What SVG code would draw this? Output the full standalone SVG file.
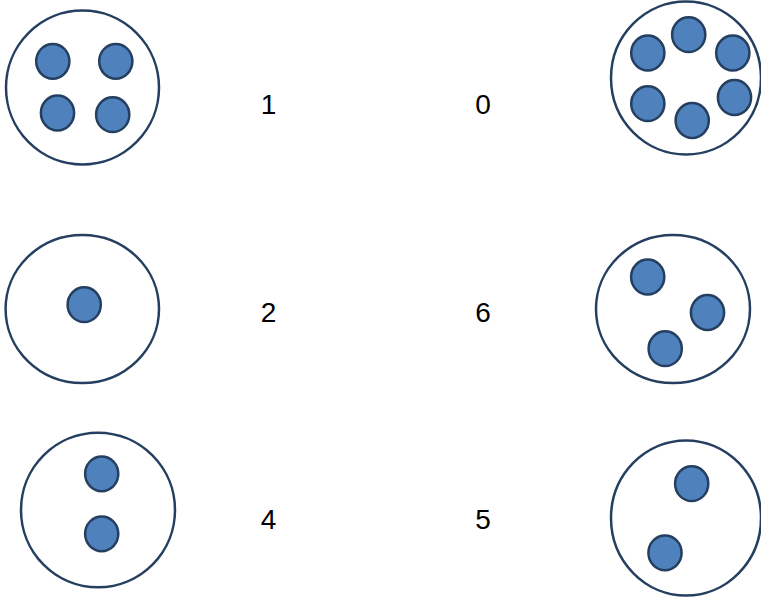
<svg xmlns="http://www.w3.org/2000/svg" width="761" height="597" viewBox="0 0 761 597">
<style>
.big{fill:#ffffff;stroke:#243f60;stroke-width:2.5}
.dot{fill:#4f81bd;stroke:#243f60;stroke-width:2.5}
.lbl{font-family:"Liberation Sans",Arial,sans-serif;font-size:28px;fill:#000000;text-anchor:middle}
</style>
<rect width="761" height="597" fill="#ffffff"/>
<g id="node-tl">
<ellipse class="big" cx="82.5" cy="87.5" rx="76.5" ry="77"/>
<ellipse class="dot" cx="52.8" cy="61.3" rx="16.6" ry="17.4"/>
<ellipse class="dot" cx="115.8" cy="61.3" rx="16.6" ry="17.4"/>
<ellipse class="dot" cx="57.5" cy="113" rx="16.6" ry="17.4"/>
<ellipse class="dot" cx="112.7" cy="114.7" rx="16.6" ry="17.4"/>
</g>
<g id="node-tr">
<ellipse class="big" cx="686" cy="78" rx="75" ry="76.5"/>
<ellipse class="dot" cx="688.7" cy="34.7" rx="16.6" ry="17.4"/>
<ellipse class="dot" cx="647.8" cy="53" rx="16.6" ry="17.4"/>
<ellipse class="dot" cx="732.8" cy="53" rx="16.6" ry="17.4"/>
<ellipse class="dot" cx="647.8" cy="103.7" rx="16.6" ry="17.4"/>
<ellipse class="dot" cx="734.5" cy="97.5" rx="16.6" ry="17.4"/>
<ellipse class="dot" cx="692.2" cy="120.5" rx="16.6" ry="17.4"/>
</g>
<g id="node-ml">
<ellipse class="big" cx="82.3" cy="309" rx="76.7" ry="74"/>
<ellipse class="dot" cx="84.2" cy="304.7" rx="16.6" ry="17.4"/>
</g>
<g id="node-mr">
<ellipse class="big" cx="673" cy="309" rx="77" ry="74"/>
<ellipse class="dot" cx="647.7" cy="277" rx="16.6" ry="17.4"/>
<ellipse class="dot" cx="707.5" cy="312.5" rx="16.6" ry="17.4"/>
<ellipse class="dot" cx="665.2" cy="348.7" rx="16.6" ry="17.4"/>
</g>
<g id="node-bl">
<ellipse class="big" cx="98" cy="510" rx="77" ry="77.3"/>
<ellipse class="dot" cx="101.7" cy="473.8" rx="16.6" ry="17.4"/>
<ellipse class="dot" cx="101.7" cy="533.8" rx="16.6" ry="17.4"/>
</g>
<g id="node-br">
<ellipse class="big" cx="686" cy="518" rx="75" ry="77.5"/>
<ellipse class="dot" cx="691.7" cy="483.7" rx="16.6" ry="17.4"/>
<ellipse class="dot" cx="665" cy="552.8" rx="16.6" ry="17.4"/>
</g>
<g id="labels">
<text class="lbl" x="268.5" y="114.3">1</text>
<text class="lbl" x="483" y="114.3">0</text>
<text class="lbl" x="268.5" y="321.7">2</text>
<text class="lbl" x="483" y="321.7">6</text>
<text class="lbl" x="268.5" y="529">4</text>
<text class="lbl" x="483" y="529">5</text>
</g>
<g id="connectors"/>
</svg>
